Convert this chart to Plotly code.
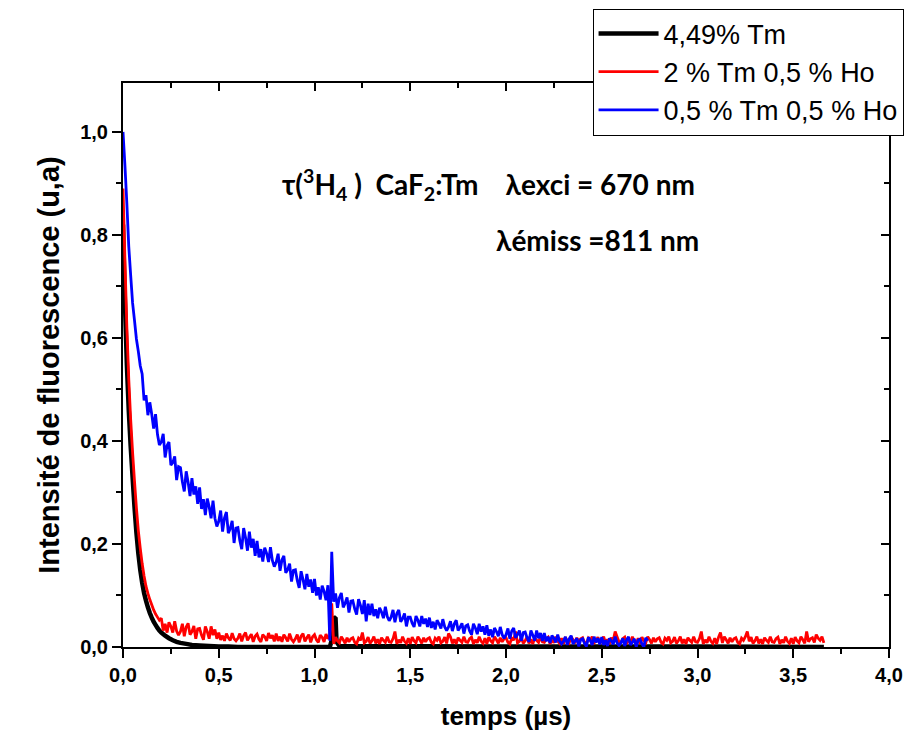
import numpy as np
import plotly.graph_objects as go

# ---------------- data (intensity in thousandths, time step 0.01 us) ----------------
blue_vals = [
    1000, 935, 862, 778, 722, 668, 634, 598, 574, 546,
    530, 479, 489, 450, 475, 452, 424, 452, 413, 392,
    398, 414, 368, 391, 398, 353, 358, 370, 324, 350,
    348, 321, 302, 341, 320, 293, 328, 296, 312, 278,
    310, 268, 287, 256, 288, 272, 250, 284, 250, 234,
    244, 265, 224, 251, 262, 221, 230, 245, 202, 231,
    232, 207, 190, 231, 212, 187, 224, 193, 210, 177,
    206, 174, 190, 166, 193, 182, 165, 194, 168, 156,
    165, 181, 148, 169, 177, 144, 150, 162, 127, 149,
    150, 129, 115, 147, 131, 112, 142, 117, 131, 105,
    132, 100, 116, 92, 119, 108, 91, 120, 12, 185,
    88, 104, 76, 96, 105, 77, 85, 96, 67, 89,
    90, 74, 63, 93, 81, 64, 91, 50, 84, 62,
    84, 60, 73, 56, 76, 68, 56, 78, 59, 51,
    58, 72, 48, 65, 72, 49, 55, 65, 40, 58,
    58, 46, 39, 60, 52, 40, 60, 45, 55, 39,
    57, 37, 49, 34, 52, 45, 36, 54, 39, 32,
    39, 50, 31, 45, 52, 32, 38, 46, 26, 41,
    43, 31, 24, 45, 37, 25, 45, 30, 40, 24,
    42, 22, 34, 19, 37, 30, 21, 39, 24, 17,
    24, 36, 16, 31, 37, 18, 24, 32, 12, 28,
    29, 18, 10, 32, 23, 12, 32, 17, 27, 12,
    27, 11, 20, 8, 22, 17, 9, 24, 11, 6,
    11, 20, 4, 16, 22, 6, 11, 17, 1, 14,
    16, 7, 1, 19, 13, 4, 20, 9, 17, 5,
    19, 4, 13, 2, 17, 12, 5, 20, 8, 3,
    8, 17, 2, 14, 20, 4, 9, 16, 0, 13,
    15, 6, 0, 18, 12,
]

red_vals = [
    890, 752, 622, 520, 442, 378, 322, 270, 226, 192,
    162, 138, 118, 104, 92, 82, 72, 64, 58, 52,
    56, 32, 45, 28, 48, 40, 28, 50, 31, 23,
    30, 45, 21, 39, 46, 24, 30, 41, 16, 35,
    36, 23, 14, 40, 30, 16, 40, 23, 34, 16,
    28, 14, 22, 12, 26, 18, 13, 27, 16, 12,
    17, 26, 11, 22, 28, 13, 19, 25, 10, 21,
    25, 15, 10, 24, 20, 12, 27, 17, 23, 11,
    26, 12, 20, 10, 24, 18, 11, 26, 15, 10,
    16, 24, 9, 21, 26, 11, 18, 24, 9, 20,
    24, 14, 9, 23, 19, 10, 25, 16, 22, 85,
    6, 19, 12, 8, 20, 14, 7, 18, 10, 16,
    18, 9, 6, 17, 13, 28, 8, 11, 19, 7,
    12, 20, 7, 15, 6, 18, 13, 9, 20, 10,
    9, 16, 30, 6, 14, 8, 20, 11, 7, 17,
    6, 19, 12, 8, 20, 14, 7, 18, 10, 16,
    18, 9, 6, 17, 13, 20, 8, 11, 19, 7,
    26, 20, 7, 15, 6, 18, 13, 9, 20, 10,
    9, 16, 19, 6, 14, 8, 20, 11, 7, 17,
    6, 19, 12, 8, 20, 14, 7, 18, 10, 16,
    18, 9, 6, 17, 13, 30, 8, 11, 19, 7,
    12, 20, 7, 15, 6, 18, 13, 9, 20, 10,
    9, 16, 19, 6, 14, 8, 20, 11, 7, 17,
    6, 19, 12, 8, 20, 14, 7, 18, 10, 16,
    18, 9, 6, 17, 13, 20, 8, 11, 19, 7,
    12, 20, 7, 15, 6, 18, 13, 30, 20, 10,
    9, 16, 19, 6, 14, 8, 20, 11, 7, 17,
    6, 19, 12, 8, 20, 14, 7, 18, 10, 16,
    18, 9, 6, 17, 13, 20, 8, 11, 19, 7,
    12, 20, 7, 15, 6, 18, 13, 9, 20, 10,
    9, 16, 30, 6, 14, 8, 20, 11, 7, 17,
    6, 19, 28, 8, 20, 14, 7, 18, 10, 16,
    18, 9, 6, 17, 13, 20, 30, 11, 19, 7,
    12, 20, 7, 15, 6, 18, 13, 9, 20, 10,
    9, 16, 19, 6, 14, 8, 20, 11, 7, 17,
    6, 19, 12, 8, 20, 14, 7, 30, 10, 16,
    18, 9, 24, 17, 13, 20, 8,
]

black_t = [0, 0.005, 0.01, 0.02, 0.03, 0.04, 0.05, 0.06, 0.07, 0.08, 0.09, 0.10,
           0.11, 0.12, 0.13, 0.14, 0.15, 0.16, 0.17, 0.18, 0.19, 0.20, 0.22, 0.24,
           0.26, 0.28, 0.30, 0.33, 0.36, 0.40, 0.45, 0.50, 0.55, 0.60, 1.08, 1.095,
           1.10, 1.11, 1.115, 1.13, 2.0, 3.0, 3.66]
black_vals = [820, 740, 670, 550, 460, 390, 330, 272, 222, 182, 150, 125,
              105, 90, 77, 66, 57, 49, 43, 37, 32, 28, 22, 17,
              13, 10, 8, 6, 4, 3, 2, 1, 1, 0, 0, 20,
              58, 55, 10, 2, 1, 1, 0]

series_names = ["4,49% Tm", "2 % Tm 0,5 % Ho", "0,5 % Tm 0,5 % Ho"]
x_tick_vals = [0, 0.5, 1.0, 1.5, 2.0, 2.5, 3.0, 3.5, 4.0]
y_tick_vals = [0, 0.2, 0.4, 0.6, 0.8, 1.0]

# ---------------- figure ----------------
blue_t = np.round(np.arange(len(blue_vals)) * 0.01, 3)
red_t = np.round(np.arange(len(red_vals)) * 0.01, 3)

fig = go.Figure()
fig.add_trace(go.Scatter(x=black_t, y=np.array(black_vals) / 1000, mode="lines",
                         name=series_names[0],
                         line=dict(color="black", width=4.5, simplify=False)))
fig.add_trace(go.Scatter(x=red_t, y=np.array(red_vals) / 1000, mode="lines",
                         name=series_names[1],
                         line=dict(color="#ff0000", width=2.8, simplify=False)))
fig.add_trace(go.Scatter(x=blue_t, y=np.array(blue_vals) / 1000, mode="lines",
                         name=series_names[2],
                         line=dict(color="#0000ff", width=2.8, simplify=False)))

tickfont = dict(family="Liberation Sans, Arial, sans-serif", size=20, color="black", weight="bold")
common = dict(showline=True, linecolor="black", linewidth=2, showgrid=False, zeroline=False,
              tickcolor="black", tickwidth=2, automargin=False)

# the page body adds an 8 px offset, so margins are set 8 px smaller on left/top
fig.update_layout(
    width=922, height=735,
    margin=dict(l=115, r=41, t=75, b=96, autoexpand=False),
    paper_bgcolor="white", plot_bgcolor="white",
    separators=", ",
    xaxis=dict(range=[0, 4], tickvals=x_tick_vals, tickformat=".1f", ticks="outside",
               ticklen=9, tickfont=tickfont,
               minor=dict(dtick=0.25, ticks="outside", ticklen=5, tickwidth=2, tickcolor="black"),
               title=dict(text="temps (µs)", standoff=22,
                          font=dict(family="Liberation Sans, Arial, sans-serif", size=26,
                                    color="black", weight="bold")),
               **common),
    yaxis=dict(range=[0, 1.095], tickvals=y_tick_vals, tickformat=".1f", ticks="outside",
               ticklen=9, tickfont=tickfont,
               minor=dict(dtick=0.1, ticks="outside", ticklen=5, tickwidth=2, tickcolor="black"),
               title=dict(text="Intensité de fluorescence (u,a)", standoff=12,
                          font=dict(family="Liberation Sans, Arial, sans-serif", size=29,
                                    color="black", weight="bold")),
               **common),
    xaxis2=dict(range=[0, 4], overlaying="x", side="top", anchor="y", tickvals=x_tick_vals,
                ticks="inside", ticklen=8, showticklabels=False,
                minor=dict(dtick=0.25, ticks="inside", ticklen=5, tickwidth=2, tickcolor="black"),
                **common),
    yaxis2=dict(range=[0, 1.095], overlaying="y", side="right", anchor="x", tickvals=y_tick_vals,
                ticks="inside", ticklen=8, showticklabels=False,
                minor=dict(dtick=0.1, ticks="inside", ticklen=5, tickwidth=2, tickcolor="black"),
                **common),
    legend=dict(x=0.613, y=1.132, xanchor="left", yanchor="top",
                bgcolor="white", bordercolor="black", borderwidth=1,
                font=dict(family="Liberation Sans, Arial, sans-serif", size=27, color="black"),
                itemwidth=60, tracegroupgap=0),
    showlegend=True,
)

# invisible helper trace so the mirrored top/right axes are drawn
fig.add_trace(go.Scatter(x=[None], y=[None], xaxis="x2", yaxis="y2", showlegend=False,
                         hoverinfo="skip"))

ann_font = dict(family="Lato, Open Sans, sans-serif", size=28, color="black", weight="bold")
fig.add_annotation(x=1.906, y=0.897, xref="x", yref="y", showarrow=False, font=ann_font,
                   text="τ(<sup>3</sup>H<sub>4</sub> )  CaF<sub>2</sub>:Tm    λexci = 670 nm")
fig.add_annotation(x=2.48, y=0.79, xref="x", yref="y", showarrow=False, font=ann_font,
                   text="λémiss =811 nm")

fig.write_html("out.html")
